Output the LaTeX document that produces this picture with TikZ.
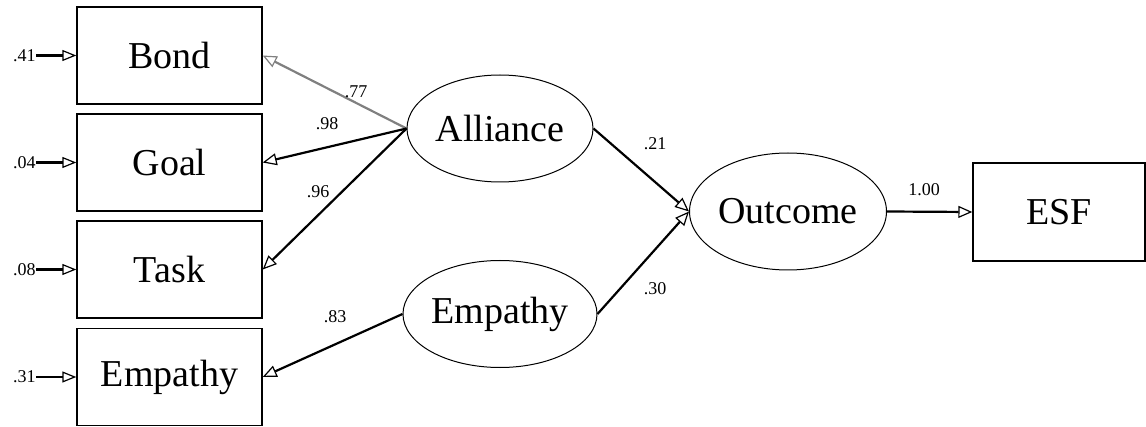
\documentclass[tikz,border=0pt]{standalone}
\usepackage{fontspec}
\setmainfont{Liberation Serif}
\usetikzlibrary{shapes.geometric,arrows.meta}
\begin{document}
\begin{tikzpicture}[x=0.5pt,y=-0.5pt,
  obs/.style={draw, line width=0.7pt, rectangle, minimum width=92.5pt, minimum height=48.5pt, inner sep=0pt, font=\fontsize{19}{22}\selectfont},
  lat/.style={draw, line width=0.5pt, ellipse, minimum width=93pt, minimum height=53.5pt, inner sep=0pt, font=\fontsize{19}{22}\selectfont},
  coef/.style={font=\fontsize{9}{10}\selectfont, inner sep=0pt},
  path/.style={line width=1.1pt, -{Triangle[open, length=7pt, width=6pt, line width=0.6pt]}},
  res/.style={line width=1.1pt, -{Triangle[open, length=7pt, width=5.5pt, line width=0.6pt]}}
]
\useasboundingbox (0,0) rectangle (1146,427);
\node[obs] (bond) at (169.5,55.5) {Bond};
\node[obs] (goal) at (169.5,162.5) {Goal};
\node[obs] (task) at (169.5,269.5) {Task};
\node[obs] (emo) at (169.5,377) {Empathy};
\node[lat] (al) at (500,128.5) {Alliance};
\node[lat] (em) at (500,314) {Empathy};
\node[lat, minimum width=96pt, minimum height=58.5pt] (out) at (788,211.5) {Outcome};
\node[obs, minimum width=86pt, minimum height=49pt] (esf) at (1059,212) {ESF};
% residuals
\node[coef, anchor=east] (r1) at (36,55.5) {.41};
\node[coef, anchor=east] (r2) at (36,162.5) {.04};
\node[coef, anchor=east] (r3) at (36,269.5) {.08};
\node[coef, anchor=east] (r4) at (36,377) {.31};
\draw[res] (r1.east) -- (bond.west);
\draw[res] (r2.east) -- (goal.west);
\draw[res] (r3.east) -- (task.west);
\draw[res] (r4.east) -- (emo.west);
% loadings
\draw[path, draw={rgb,255:red,128;green,128;blue,128}] (al.west) -- (bond.east);
\draw[path] (al.west) -- (goal.east);
\draw[path] (al.west) -- (task.east);
\draw[path] (em.west) -- (emo.east);
\draw[path] (al.east) -- (out.west);
\draw[path] (em.east) -- (out.west);
\draw[path] (out.east) -- (esf.west);
% coefficient labels
\node[coef] (c1) at (356,92) {.77};
\node[coef] (c2) at (327,124) {.98};
\node[coef] (c3) at (318,192) {.96};
\node[coef] (c4) at (335,317) {.83};
\node[coef] (c5) at (655,144) {.21};
\node[coef] (c6) at (655,289) {.30};
\node[coef] (c7) at (924,190) {1.00};
\end{tikzpicture}
\end{document}
